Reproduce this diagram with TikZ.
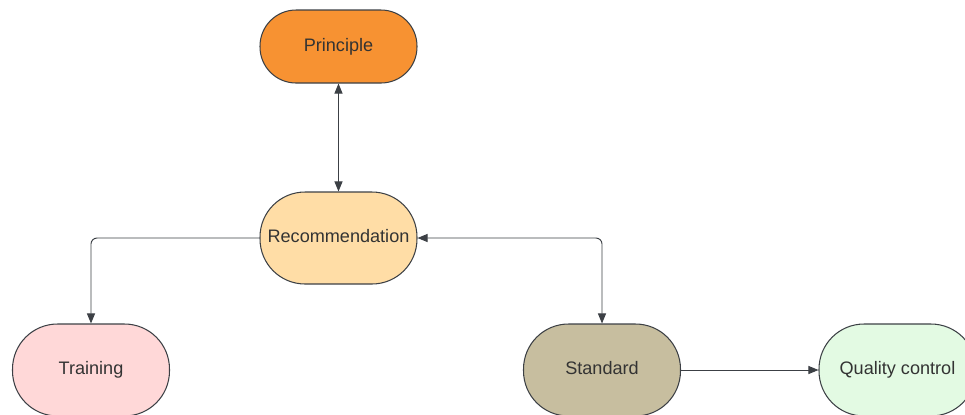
\documentclass[tikz,border=0pt]{standalone}
\usepackage{fontspec}
\setmainfont{Liberation Sans}
\usetikzlibrary{arrows.meta}
\definecolor{edgegray}{RGB}{60,64,69}
\definecolor{textgray}{RGB}{51,51,51}
\definecolor{princol}{RGB}{247,146,50}
\definecolor{reccol}{RGB}{255,221,166}
\definecolor{traincol}{RGB}{255,216,216}
\definecolor{stdcol}{RGB}{199,190,159}
\definecolor{qccol}{RGB}{227,250,227}
\begin{document}
\begin{tikzpicture}[x=0.02cm, y=-0.02cm, line join=round,
        font=\fontsize{10.3}{12}\selectfont,
        >={Triangle[length=2mm, width=1.6mm]},
        pill/.style={draw=edgegray, line width=0.6pt, text=textgray,
            minimum width=3.14cm, minimum height=1.84cm,
            text height=7.5pt, text depth=2.3pt,
            rounded corners=0.9cm, inner sep=0pt},
        link/.style={draw=edgegray, line width=0.55pt, rounded corners=0.12cm}]
        \useasboundingbox (0,0) rectangle (965,414);
        \clip (0,0) rectangle (965,414);
        % nodes
        \node[pill, fill=princol, minimum height=1.46cm, rounded corners=0.72cm]
            (prin) at (338.5,46.5) {Principle};
        \node[pill, fill=reccol] (rec) at (338.5,238) {Recommendation};
        \node[pill, fill=traincol] (train) at (91,370) {Training};
        \node[pill, fill=stdcol] (std) at (602,370) {Standard};
        \node[pill, fill=qccol] (qc) at (897.5,370) {Quality control};
        % connectors
        \draw[link, <->] (prin) -- (rec);
        \draw[link, ->] (rec.west) -| (train.north);
        \draw[link, <->] (std.north) |- (rec.east);
        \draw[link, ->] (std) -- (qc);
    \end{tikzpicture}
\end{document}
